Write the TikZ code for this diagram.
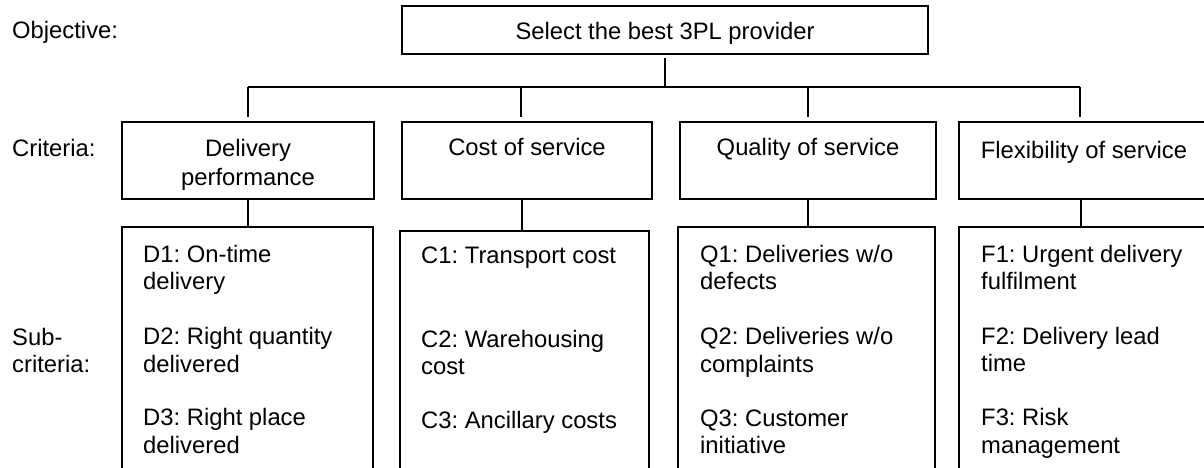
\documentclass[tikz,border=0pt]{standalone}
\usepackage{fontspec}
\setmainfont{Liberation Sans}
\frenchspacing
\begin{document}
\begin{tikzpicture}[x={(1pt,0pt)}, y={(0pt,-1pt)},
  box/.style={draw, line width=1.4pt, rectangle, inner sep=0pt},
  conn/.style={draw, line width=1.4pt},
  lbl/.style={font=\fontsize{23.8}{28}\selectfont, inner sep=0pt, text=black}]
  \useasboundingbox (0,0) rectangle (1204,468);
  \clip (0,0) rectangle (1204,468);

  % level labels
  \node[lbl, anchor=base west] (lobj) at (12,39) {Objective:};
  \node[lbl, anchor=base west] (lcrit) at (12,157) {Criteria:};
  \node[lbl, anchor=base west] (lsub1) at (12,345) {Sub-};
  \node[lbl, anchor=base west] (lsub2) at (12,372) {criteria:};

  % objective
  \node[box, minimum width=526pt, minimum height=48pt] (goal) at (665,30) {};
  \node[lbl, anchor=base] (goalt) at (665,40) {Select the best 3PL provider};

  % criteria
  \node[box, minimum width=252pt, minimum height=77pt] (cD) at (248,160.5) {};
  \node[box, minimum width=250pt, minimum height=77pt] (cC) at (527,160.5) {};
  \node[box, minimum width=256pt, minimum height=77pt] (cQ) at (808,160.5) {};
  \node[box, minimum width=250pt, minimum height=77pt] (cF) at (1084,160.5) {};
  \node[lbl, anchor=base] (cDt1) at (248,157) {Delivery};
  \node[lbl, anchor=base] (cDt2) at (248,185) {performance};
  \node[lbl, anchor=base] (cCt) at (527,155) {Cost of service};
  \node[lbl, anchor=base] (cQt) at (808,155) {Quality of service};
  \node[lbl, anchor=base] (cFt) at (1084,158) {Flexibility of service};

  % sub-criteria boxes (open towards the bottom)
  \node[box, minimum width=251pt, minimum height=263pt] (sD) at (247.5,358.5) {};
  \node[box, minimum width=249pt, minimum height=263pt] (sC) at (524.5,362.5) {};
  \node[box, minimum width=257pt, minimum height=263pt] (sQ) at (806.5,358.5) {};
  \node[box, minimum width=250pt, minimum height=263pt] (sF) at (1084,358.5) {};

  % tree connectors
  \coordinate (busL) at (248,87);
  \coordinate (busR) at (1080,87);
  \coordinate (tC) at (521,87);
  \coordinate (tQ) at (808,87);
  \draw[conn] ([yshift=-3pt]goal.south) -- (goal.south |- busL);
  \draw[conn] (busL) -- (busR);
  \draw[conn] (busL) -- ([yshift=4pt]cD.north -| busL);
  \draw[conn] (tC) -- ([yshift=4pt]cC.north -| tC);
  \draw[conn] (tQ) -- ([yshift=4pt]cQ.north -| tQ);
  \draw[conn] (busR) -- ([yshift=4pt]cF.north -| busR);
  \draw[conn] (cD.south) -- (cD.south |- sD.north);
  \draw[conn] ([xshift=-5pt]cC.south) -- ([xshift=-5pt]cC.south |- sC.north);
  \draw[conn] (cQ.south) -- (cQ.south |- sQ.north);
  \draw[conn] ([xshift=-3pt]cF.south) -- ([xshift=-3pt]cF.south |- sF.north);

  % delivery sub-criteria
  \node[lbl, anchor=base west] (d1a) at (143,262) {D1: On-time};
  \node[lbl, anchor=base west] (d1b) at (143,289) {delivery};
  \node[lbl, anchor=base west] (d2a) at (143,344) {D2: Right quantity};
  \node[lbl, anchor=base west] (d2b) at (143,372) {delivered};
  \node[lbl, anchor=base west] (d3a) at (143,425) {D3: Right place};
  \node[lbl, anchor=base west] (d3b) at (143,453) {delivered};

  % cost sub-criteria
  \node[lbl, anchor=base west] (c1) at (421,263) {C1: Transport cost};
  \node[lbl, anchor=base west] (c2a) at (421,347) {C2: Warehousing};
  \node[lbl, anchor=base west] (c2b) at (421,374) {cost};
  \node[lbl, anchor=base west] (c3) at (421,428) {C3: Ancillary costs};

  % quality sub-criteria
  \node[lbl, anchor=base west] (q1a) at (700,262) {Q1: Deliveries w/o};
  \node[lbl, anchor=base west] (q1b) at (700,289) {defects};
  \node[lbl, anchor=base west] (q2a) at (700,344) {Q2: Deliveries w/o};
  \node[lbl, anchor=base west] (q2b) at (700,372) {complaints};
  \node[lbl, anchor=base west] (q3a) at (700,426) {Q3: Customer};
  \node[lbl, anchor=base west] (q3b) at (700,453) {initiative};

  % flexibility sub-criteria
  \node[lbl, anchor=base west] (f1a) at (981,262) {F1: Urgent delivery};
  \node[lbl, anchor=base west] (f1b) at (981,289) {fulfilment};
  \node[lbl, anchor=base west] (f2a) at (981,344) {F2: Delivery lead};
  \node[lbl, anchor=base west] (f2b) at (981,371) {time};
  \node[lbl, anchor=base west] (f3a) at (981,425) {F3: Risk};
  \node[lbl, anchor=base west] (f3b) at (981,453) {management};
\end{tikzpicture}
\end{document}
